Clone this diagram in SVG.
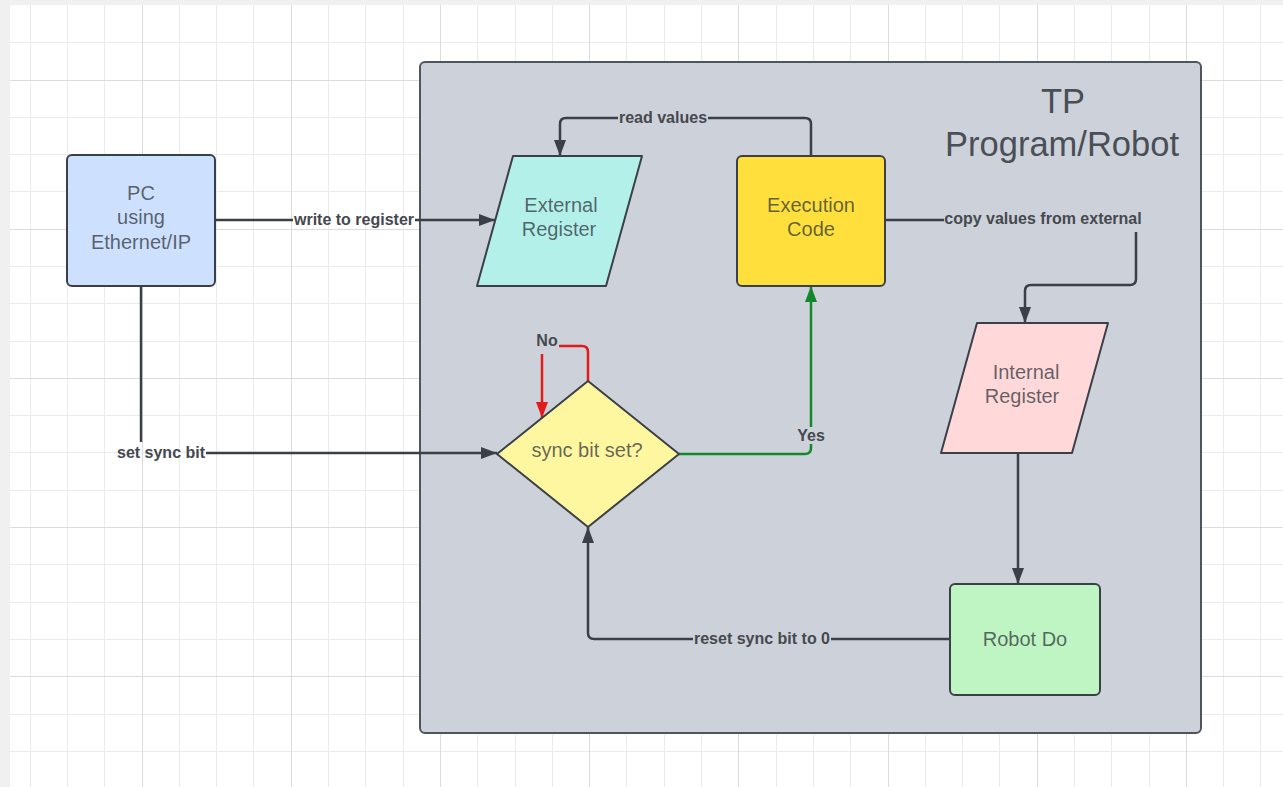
<svg xmlns="http://www.w3.org/2000/svg" width="1283" height="787" viewBox="0 0 1283 787">
  <style>
    .minor { stroke: #ebebeb; stroke-width: 1; fill: none; }
    .major { stroke: #dcdcdc; stroke-width: 1; fill: none; }
    .node { stroke: #3b4048; stroke-width: 2; stroke-linejoin: round; }
    .ntext { font-family: "Liberation Sans", Arial, sans-serif; font-size: 20px; fill: #2b3038; fill-opacity: 0.72; text-anchor: middle; }
    .title { font-family: "Liberation Sans", Arial, sans-serif; font-size: 34.5px; fill: #4a4f57; text-anchor: middle; }
    .lbl { font-family: "Liberation Sans", Arial, sans-serif; font-size: 16px; font-weight: bold; fill: #45494f; text-anchor: middle; }
    .wire { fill: none; stroke: #3b4048; stroke-width: 2.5; }
    .wire-red { fill: none; stroke: #e21b1b; stroke-width: 2.5; }
    .wire-green { fill: none; stroke: #11882a; stroke-width: 2.5; }
  </style>
  <defs>
    <marker id="arrow" viewBox="0 0 16 12" refX="16" refY="6" markerWidth="16" markerHeight="12" markerUnits="userSpaceOnUse" orient="auto">
      <path d="M0,0 L16,6 L0,12 z" fill="#3b4048"/>
    </marker>
    <marker id="arrow-red" viewBox="0 0 16 12" refX="16" refY="6" markerWidth="16" markerHeight="12" markerUnits="userSpaceOnUse" orient="auto">
      <path d="M0,0 L16,6 L0,12 z" fill="#e21b1b"/>
    </marker>
    <marker id="arrow-green" viewBox="0 0 16 12" refX="16" refY="6" markerWidth="16" markerHeight="12" markerUnits="userSpaceOnUse" orient="auto">
      <path d="M0,0 L16,6 L0,12 z" fill="#11882a"/>
    </marker>
  </defs>

  <!-- canvas and grid -->
  <g id="canvas">
    <rect x="0" y="0" width="1283" height="787" fill="#f0f0f0"/>
    <rect x="10" y="5" width="1273" height="782" fill="#ffffff"/>
    <path class="minor" d="M30.5,5V787 M67.5,5V787 M104.5,5V787 M179.5,5V787 M216.5,5V787 M253.5,5V787 M328.5,5V787 M365.5,5V787 M403.5,5V787 M477.5,5V787 M515.5,5V787 M552.5,5V787 M626.5,5V787 M664.5,5V787 M701.5,5V787 M776.5,5V787 M813.5,5V787 M850.5,5V787 M925.5,5V787 M962.5,5V787 M999.5,5V787 M1074.5,5V787 M1111.5,5V787 M1149.5,5V787 M1223.5,5V787 M1260.5,5V787"/>
    <path class="minor" d="M10,42.5H1283 M10,117.5H1283 M10,154.5H1283 M10,191.5H1283 M10,266.5H1283 M10,303.5H1283 M10,341.5H1283 M10,415.5H1283 M10,452.5H1283 M10,490.5H1283 M10,564.5H1283 M10,602.5H1283 M10,639.5H1283 M10,714.5H1283 M10,751.5H1283"/>
    <path class="major" d="M142.5,5V787 M291.5,5V787 M440.5,5V787 M589.5,5V787 M738.5,5V787 M888.5,5V787 M1037.5,5V787 M1186.5,5V787"/>
    <path class="major" d="M10,80.5H1283 M10,229.5H1283 M10,378.5H1283 M10,527.5H1283 M10,676.5H1283"/>
  </g>

  <!-- container -->
  <g id="tp-program-robot">
    <rect x="420" y="62" width="781" height="671" rx="5" fill="#cdd1d9" stroke="#50555d" stroke-width="2"/>
    <text class="title" x="1063" y="113">TP</text>
    <text class="title" x="1062" y="156">Program/Robot</text>
  </g>

  <!-- connectors -->
  <g id="connectors">
    <!-- write to register -->
    <path class="wire" d="M215,220 H293"/>
    <path class="wire" d="M415,220 H495" marker-end="url(#arrow)"/>
    <text class="lbl" x="354" y="225">write to register</text>

    <!-- set sync bit -->
    <path class="wire" d="M141,286 V442"/>
    <path class="wire" d="M206,453 H497" marker-end="url(#arrow)"/>
    <text class="lbl" x="161" y="458">set sync bit</text>

    <!-- read values -->
    <path class="wire" d="M811,156 V124 Q811,118 805,118 H708"/>
    <path class="wire" d="M618,118 H566 Q560,118 560,124 V156" marker-end="url(#arrow)"/>
    <text class="lbl" x="663" y="123">read values</text>

    <!-- copy values from external -->
    <path class="wire" d="M885,220 H944"/>
    <path class="wire" d="M1136,232 V279 Q1136,285 1130,285 H1031 Q1025,285 1025,291 V323" marker-end="url(#arrow)"/>
    <text class="lbl" x="1043" y="224">copy values from external</text>

    <!-- internal register to robot do -->
    <path class="wire" d="M1018,453 V584" marker-end="url(#arrow)"/>

    <!-- reset sync bit to 0 -->
    <path class="wire" d="M950,639 H831"/>
    <path class="wire" d="M693,639 H594 Q588,639 588,633 V527" marker-end="url(#arrow)"/>
    <text class="lbl" x="762" y="644">reset sync bit to 0</text>

    <!-- No loop -->
    <path class="wire-red" d="M588,381 V352 Q588,346 582,346 H559"/>
    <path class="wire-red" d="M542,354 V418" marker-end="url(#arrow-red)"/>
    <text class="lbl" x="547" y="346">No</text>

    <!-- Yes -->
    <path class="wire-green" d="M679,454 H805 Q811,454 811,448 V444"/>
    <path class="wire-green" d="M811,427 V286" marker-end="url(#arrow-green)"/>
    <text class="lbl" x="811" y="441">Yes</text>
  </g>

  <!-- nodes -->
  <g id="pc">
    <rect class="node" x="67" y="155" width="148" height="131" rx="5" fill="#cde0fd"/>
    <text class="ntext" x="141" y="200">PC</text>
    <text class="ntext" x="141" y="224">using</text>
    <text class="ntext" x="141" y="249">Ethernet/IP</text>
  </g>

  <g id="external-register">
    <polygon class="node" points="513,156 642,156 606,286 477,286" fill="#b3f0ea"/>
    <text class="ntext" x="561" y="212">External</text>
    <text class="ntext" x="559" y="236">Register</text>
  </g>

  <g id="execution-code">
    <rect class="node" x="737" y="156" width="148" height="130" rx="5" fill="#fedf3c"/>
    <text class="ntext" x="811" y="212">Execution</text>
    <text class="ntext" x="811" y="236">Code</text>
  </g>

  <g id="internal-register">
    <polygon class="node" points="977,323 1108,323 1072,453 941,453" fill="#ffd9da"/>
    <text class="ntext" x="1026" y="379">Internal</text>
    <text class="ntext" x="1022" y="403">Register</text>
  </g>

  <g id="sync-bit-set">
    <polygon class="node" points="588,381 679,454 588,527 497,454" fill="#fff6a0"/>
    <text class="ntext" x="587" y="457">sync bit set?</text>
  </g>

  <g id="robot-do">
    <rect class="node" x="950" y="584" width="150" height="111" rx="5" fill="#bff5c2"/>
    <text class="ntext" x="1025" y="646">Robot Do</text>
  </g>
</svg>
